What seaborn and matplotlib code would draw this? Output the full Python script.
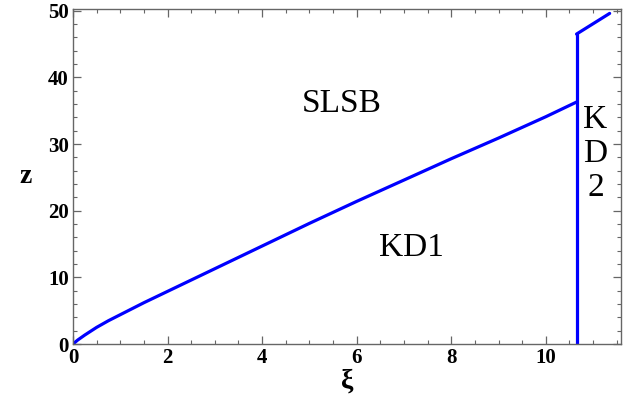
import numpy as np
import pandas as pd
import matplotlib
matplotlib.use("Agg")
import matplotlib.pyplot as plt
from matplotlib.ticker import MultipleLocator
import seaborn as sns

sns.set_style("ticks")
plt.rcParams['font.family'] = ['Liberation Serif', 'DejaVu Serif']
plt.rcParams['text.color'] = 'black'
plt.rcParams['axes.labelcolor'] = 'black'
plt.rcParams['xtick.labelcolor'] = 'black'
plt.rcParams['ytick.labelcolor'] = 'black'

# boundary SLSB / KD1
xi_curve = [0, 0.1, 0.25, 0.5, 0.75, 1, 1.5, 2, 3, 4, 5, 6, 7, 8, 9, 10, 10.65]
z_curve = [0, 0.6, 1.35, 2.5, 3.5, 4.4, 6.2, 7.9, 11.3, 14.7, 18.1, 21.4, 24.6, 27.8, 30.9, 34.1, 36.3]
# boundary KD1 / KD2 (vertical)
xi_vert = [10.65, 10.65]
z_vert = [0, 46.5]
# upper segment
xi_top = [10.65, 11.35]
z_top = [46.5, 49.6]

segs = pd.concat([
    pd.DataFrame({'xi': xi_curve, 'z': z_curve, 'seg': 'a'}),
    pd.DataFrame({'xi': xi_vert, 'z': z_vert, 'seg': 'b'}),
    pd.DataFrame({'xi': xi_top, 'z': z_top, 'seg': 'c'}),
])

fig = plt.figure(figsize=(6.43, 4.16), dpi=100)
ax = fig.add_axes([0.1135, 0.173, 0.853, 0.806])

for s, d in segs.groupby('seg'):
    sns.lineplot(data=d, x='xi', y='z', sort=False, estimator=None, color='#0000ff',
                 lw=2.3, ax=ax)

ax.set_xlim(0, 11.6)
ax.set_ylim(0, 50.3)
ax.xaxis.set_major_locator(MultipleLocator(2))
ax.xaxis.set_minor_locator(MultipleLocator(0.5))
ax.yaxis.set_major_locator(MultipleLocator(10))
ax.yaxis.set_minor_locator(MultipleLocator(2))
ax.tick_params(which='both', direction='in', top=True, right=True, color='#666666',
               labelsize=15, pad=3)
ax.tick_params(which='major', length=6, width=0.9)
ax.tick_params(which='minor', length=3, width=0.8)
for lab in ax.get_xticklabels() + ax.get_yticklabels():
    lab.set_fontweight('bold')
for sp in ax.spines.values():
    sp.set_color('#666666')
    sp.set_linewidth(1.0)

ax.set_xlabel('ξ', fontsize=20, fontweight='bold', labelpad=0)
ax.set_ylabel('z', fontsize=20, fontweight='bold', rotation=0, labelpad=16, va='center')

ax.text(5.68, 36.1, 'SLSB', fontsize=24, ha='center', va='center')
ax.text(7.16, 14.4, 'KD1', fontsize=24, ha='center', va='center')
ax.text(11.05, 28.6, 'K\nD\n2', fontsize=24, ha='center', va='center', linespacing=1.15)

fig.savefig('out.png', dpi=100)
